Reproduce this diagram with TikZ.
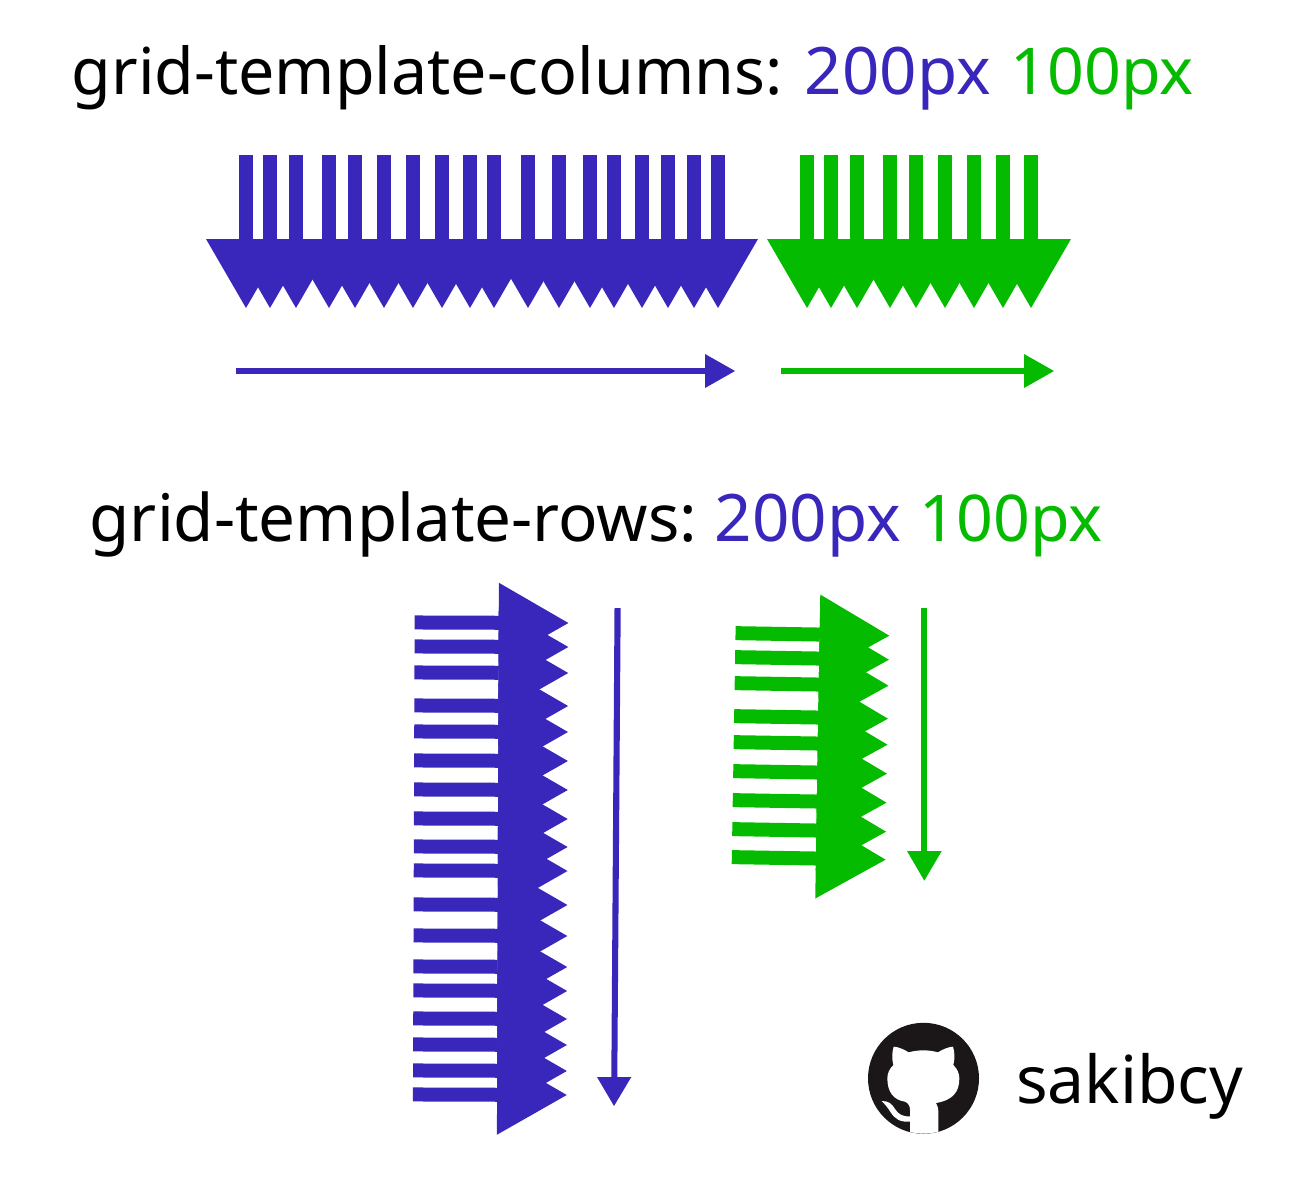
\documentclass[tikz,border=0pt]{standalone}
\usepackage{fontspec}
\setmainfont{Noto Sans}
\definecolor{gblue}{RGB}{57,38,187}
\definecolor{ggreen}{RGB}{5,187,0}
\definecolor{ghdark}{RGB}{27,23,24}
\newcommand{\hcombtooth}[1]{%
  \fill (#1-7,155) -- (#1+7,155) -- (#1+7,240) -- (#1-7,240) -- cycle;
  \fill (#1-40,239) -- (#1+40,239) -- (#1,308) -- cycle;}
\newcommand{\vcombtooth}[1]{%
  \fill (-153.8,#1-7) -- (-69.5,#1-7) -- (-69.5,#1+7) -- (-153.8,#1+7) -- cycle;
  \fill (-69.7,#1-40) -- (-69.7,#1+40) -- (0,#1) -- cycle;}
\tikzset{
  title/.style={inner sep=0pt,anchor=base west,font=\fontsize{65}{65}\selectfont},
  bluetitle/.style={title,text=gblue},
  greentitle/.style={title,text=ggreen}
}
\begin{document}
\begin{tikzpicture}[x=1pt,y=-1pt]
\useasboundingbox (0,0) rectangle (1300,1177);
\node[title,font=\fontsize{64.5}{65}\selectfont] (coltitle) at (71.5,95) {grid-template-columns:};
\node[bluetitle,font=\fontsize{65.5}{65}\selectfont] (colblue) at (804.5,95) {200px};
\node[greentitle,font=\fontsize{64.5}{65}\selectfont] (colgreen) at (1010.5,95) {100px};
\node[title,font=\fontsize{65.5}{65}\selectfont] (rowtitle) at (89.5,541) {grid-template-rows:};
\node[bluetitle,font=\fontsize{65.5}{65}\selectfont] (rowblue) at (714.5,541) {200px};
\node[greentitle,font=\fontsize{64.5}{65}\selectfont] (rowgreen) at (919.5,541) {100px};
% columns comb, blue
\begin{scope}[fill=gblue]
\foreach \c in {246,270,296,329,355,384,413,442,470,494,528,559,590,614,642,668,694,718} {\hcombtooth{\c}}
\fill (236,368) -- (706,368) -- (706,374) -- (236,374) -- cycle;
\fill (705,354) -- (735,371) -- (705,388) -- cycle;
\end{scope}
% columns comb, green
\begin{scope}[fill=ggreen]
\foreach \c in {807,831,857,890,916,945,974,1003,1031} {\hcombtooth{\c}}
\fill (781,368) -- (1025,368) -- (1025,374) -- (781,374) -- cycle;
\fill (1024,354) -- (1054,371) -- (1024,388) -- cycle;
\end{scope}
% rows comb, blue
\begin{scope}[fill=gblue,shift={(568.4,623)},rotate=-0.2]
\foreach \c in {0,24,50,83,109,138,167,196,224,248,282,313,344,368,396,422,448,472} {\vcombtooth{\c}}
\end{scope}
\fill[gblue] (614.5,608) -- (620.7,608) -- (617.3,1078) -- (611.3,1078) -- cycle;
\fill[gblue] (597,1077) -- (631.3,1077) -- (614,1106) -- cycle;
% rows comb, green
\begin{scope}[fill=ggreen,shift={(889.3,635.7)},rotate=-0.95]
\foreach \c in {0,24,50,83,109,138,167,196,224} {\vcombtooth{\c}}
\end{scope}
\fill[ggreen] (921,608) -- (927,608) -- (927,852) -- (921,852) -- cycle;
\fill[ggreen] (907,851) -- (941.7,851) -- (924.3,880.7) -- cycle;
% logo
\fill[ghdark] (923.5,1078.3) circle (55.5);
\begin{scope}[shift={(860,1015)},x=0.33333pt,y=-0.33333pt]
\clip (190.5,190) circle (166);
\fill[white] (150,360) -- (150,285)
  .. controls (150,272) and (145,265) .. (135,260)
  .. controls (100,255) and (82,230) .. (82,190)
  .. controls (82,175) and (88,162) .. (100,150)
  .. controls (95,130) and (96,112) .. (101,95)
  .. controls (115,96) and (130,102) .. (146,112)
  .. controls (175,104) and (205,104) .. (234,112)
  .. controls (250,102) and (265,96) .. (279,95)
  .. controls (284,112) and (285,130) .. (280,150)
  .. controls (292,162) and (298,175) .. (298,190)
  .. controls (298,230) and (280,255) .. (228,264)
  .. controls (233,272) and (235,280) .. (235,292)
  -- (235,360) -- cycle;
\fill[white] (65,258)
  .. controls (85,258) and (95,265) .. (105,282)
  .. controls (115,298) and (130,306) .. (150,304)
  -- (150,320)
  .. controls (120,322) and (105,312) .. (92,292)
  .. controls (85,280) and (75,268) .. (65,258) -- cycle;
\end{scope}
\node[title,font=\fontsize{66}{66}\selectfont] (author) at (1016,1103) {sakibcy};
\end{tikzpicture}
\end{document}
